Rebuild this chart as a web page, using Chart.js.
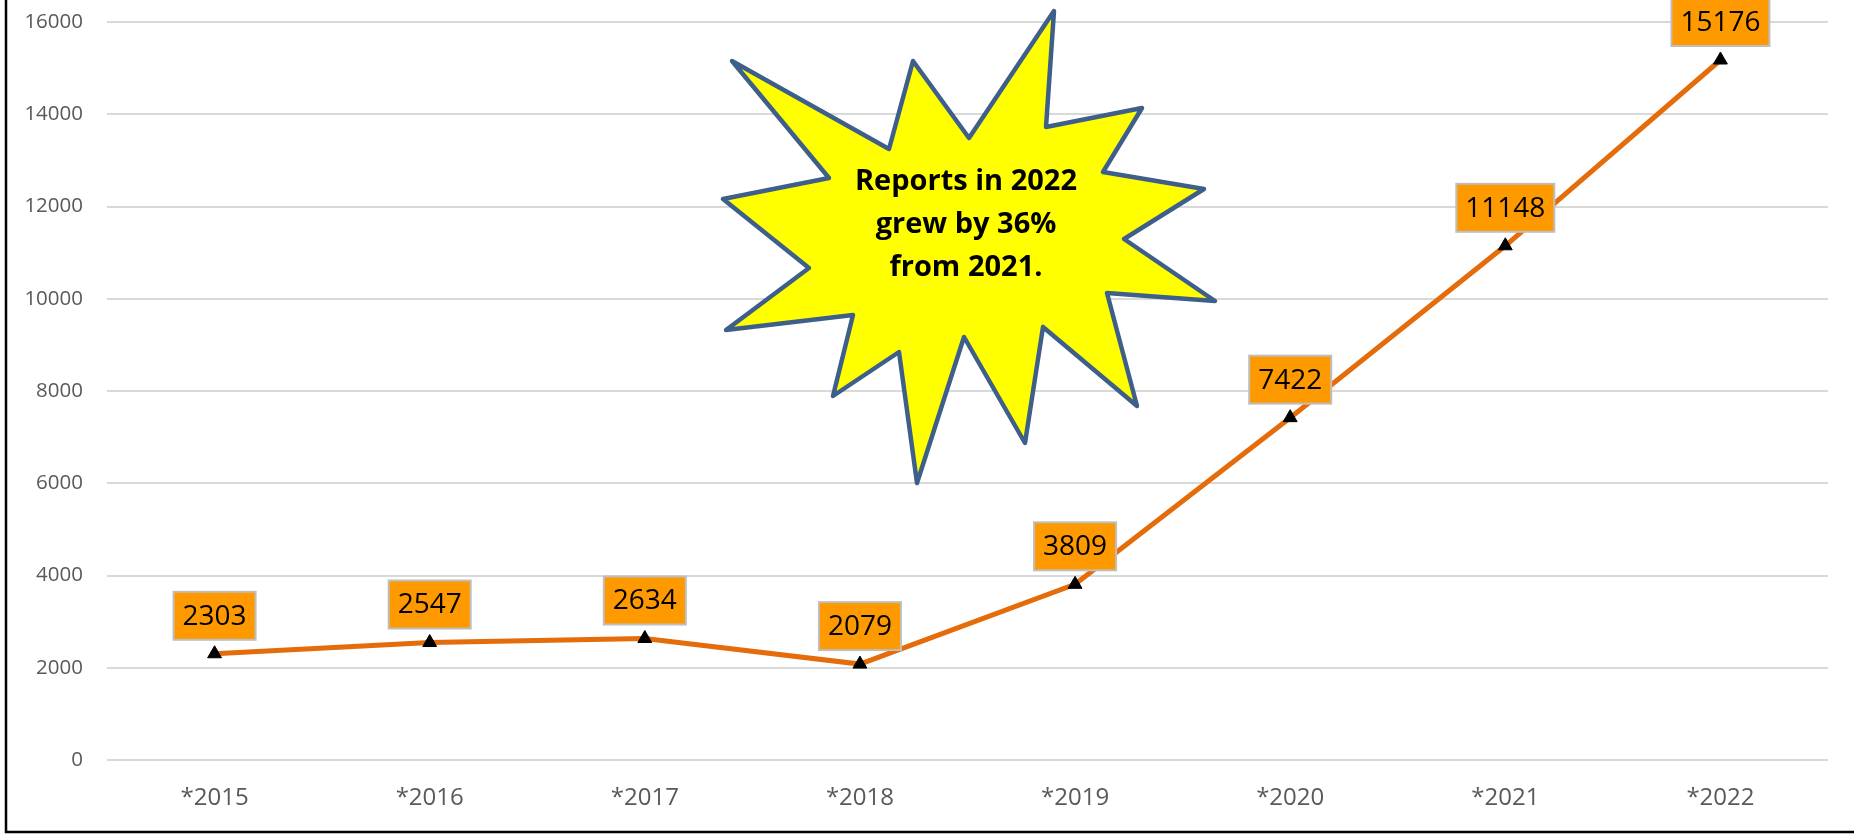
<!DOCTYPE html>
<html>
<head>
<meta charset="utf-8">
<script src="https://cdn.jsdelivr.net/npm/chart.js@4.4.1/dist/chart.umd.min.js"></script>
<style>
  html, body { margin: 0; padding: 0; background: #fff; }
  canvas { display: block; }
</style>
</head>
<body>
<canvas id="myChart" width="1854" height="835"></canvas>
<script>
// datos
const years = ['*2015', '*2016', '*2017', '*2018', '*2019', '*2020', '*2021', '*2022'];
const reports = [2303, 2547, 2634, 2079, 3809, 7422, 11148, 15176];
const yMax = 16000;
const yStep = 2000;
const calloutLines = ['Reports in 2022', 'grew by 36%', 'from 2021.'];

// forma de la estrella (pixeles del lienzo)
const starPts = [
  [732, 61], [889, 149], [913, 61], [969, 138], [1054, 11], [1046, 127],
  [1142, 108], [1103, 172], [1204, 189], [1124, 239], [1215, 301], [1107, 293],
  [1137, 406], [1043, 327], [1025, 443], [964, 337], [917, 483], [899, 352],
  [833, 396], [853, 315], [726, 330], [809, 268], [723, 199], [829, 178]
];

// marco izquierdo e inferior
const marco = {
  id: 'marco',
  afterDraw(chart) {
    const c = chart.ctx;
    c.save();
    c.strokeStyle = '#000';
    c.lineWidth = 2.5;
    c.beginPath();
    c.moveTo(6, 0);
    c.lineTo(6, 832);
    c.lineTo(1854, 832);
    c.stroke();
    c.restore();
  }
};

// estrella con el texto
const estrella = {
  id: 'estrella',
  afterDatasetsDraw(chart) {
    const c = chart.ctx;
    c.save();
    c.beginPath();
    starPts.forEach((p, i) => i ? c.lineTo(p[0], p[1]) : c.moveTo(p[0], p[1]));
    c.closePath();
    c.fillStyle = '#FFFF00';
    c.fill();
    c.lineWidth = 4.5;
    c.lineJoin = 'round';
    c.strokeStyle = '#3E5F8A';
    c.stroke();
    c.fillStyle = '#000';
    c.font = 'bold 29px "Open Sans"';
    c.textAlign = 'center';
    c.textBaseline = 'middle';
    calloutLines.forEach((t, i) => c.fillText(t, 966, 182 + i * 43));
    c.restore();
  }
};

// etiquetas naranjas sobre los puntos
const etiquetas = {
  id: 'etiquetas',
  afterDatasetsDraw(chart) {
    const c = chart.ctx;
    const meta = chart.getDatasetMeta(0);
    c.save();
    c.font = '28px "Open Sans"';
    c.textAlign = 'center';
    c.textBaseline = 'middle';
    meta.data.forEach((pt, i) => {
      const txt = String(reports[i]);
      const w = c.measureText(txt).width + 18;
      const h = 48;
      const cx = pt.x, cy = pt.y - 38;
      c.fillStyle = '#FF9900';
      c.fillRect(cx - w / 2, cy - h / 2, w, h);
      c.strokeStyle = '#BFBFBF';
      c.lineWidth = 2;
      c.strokeRect(cx - w / 2, cy - h / 2, w, h);
      c.fillStyle = '#000';
      c.fillText(txt, cx, cy + 1);
    });
    c.restore();
  }
};

var ctx = document.getElementById('myChart').getContext('2d');
window.myChart = new Chart(ctx, {
  type: 'line',
  data: {
    labels: years,
    datasets: [{
      data: reports,
      borderColor: '#E46C0A',
      borderWidth: 5,
      tension: 0,
      pointStyle: 'triangle',
      pointRadius: 8,
      pointBackgroundColor: '#000',
      pointBorderColor: '#000',
      pointBorderWidth: 1
    }]
  },
  options: {
    responsive: false,
    animation: false,
    layout: { padding: { left: 0, right: 26, top: 22, bottom: 0 } },
    plugins: { legend: { display: false }, tooltip: { enabled: false } },
    scales: {
      x: {
        offset: true,
        grid: { display: false, drawTicks: false },
        border: { display: false },
        ticks: { padding: 24, color: '#595959', font: { family: 'Open Sans', size: 24 } },
        afterFit: s => { s.height = 75; }
      },
      y: {
        min: 0,
        max: yMax,
        grid: { color: '#D9D9D9', lineWidth: 2, drawTicks: false },
        border: { display: false },
        ticks: {
          stepSize: yStep,
          padding: 24,
          color: '#595959',
          font: { family: 'Open Sans', size: 20.5 },
          callback: v => String(v)
        },
        afterFit: s => { s.width = 107; s.paddingTop = 0; s.paddingBottom = 0; }
      }
    }
  },
  plugins: [marco, estrella, etiquetas]
});
</script>
</body>
</html>
